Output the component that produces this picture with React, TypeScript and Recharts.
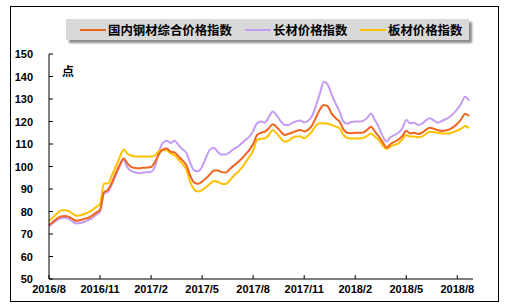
import { LineChart, Line, XAxis, YAxis } from 'recharts';

// weekly readings, 2016/8 .. 2018/9
const composite = [
  74, 75.3, 76.8, 77.8, 78, 77.7, 76.7, 75.9, 76.2, 76.7, 77.2, 78.2, 79.5, 80.7,
  88.5, 89.6, 92.8, 97, 100.8, 103.6, 101.3, 99.7, 99.3, 99.2, 99.4, 99.5, 99.8,
  102, 105.5, 107.5, 108, 106.6, 106.3, 104.5, 102.7, 100.5, 95.8, 92.8, 92.3, 93.3,
  94.8, 96.5, 98.2, 98.2, 97.5, 97.3, 98.8, 100.3, 101.8, 103.3, 105.3, 107.3, 110,
  114, 115, 115.5, 117, 118.8, 117.5, 115.6, 114, 114.5, 115.1, 115.8, 116.2, 115.6,
  116.3, 118.2, 121.8, 125.3, 127.3, 126.7, 123.5, 121.5, 120, 116.5, 115, 114.8,
  115, 115, 115.1, 116.2, 117.7, 115.5, 113.4, 110.8, 108.5, 110, 111, 112, 113.5,
  115.9, 114.7, 115, 114.5, 115, 116.3, 117.2, 116.8, 116.2, 115.8, 116, 116.5,
  117.5, 119, 121, 123.5, 122.4,
];
const longProducts = [
  73.5, 74.8, 76, 77, 77.2, 76.8, 75.6, 74.7, 74.9, 75.4, 76.2, 77, 78.6, 80,
  88, 88.8, 92, 96, 100, 102.9, 99.5, 98, 97.3, 97, 97.3, 97.5, 97.7,
  100, 106.5, 110.5, 111.5, 110.5, 111.5, 109.5, 107.7, 106, 101.5, 98.2, 97.9, 100,
  104, 107.5, 108.3, 106.5, 105.3, 105.3, 106.3, 107.7, 108.7, 110.2, 111.8, 113.2, 115.8,
  119.2, 120, 119.5, 122, 124.4, 122.7, 120.2, 118.5, 118.5, 119.4, 120.1, 120.5, 119.6,
  120.3, 122.5, 127, 132.5, 137.7, 136.4, 132, 128, 124.5, 120, 119, 119.8,
  120, 120, 120.3, 121.5, 123.6, 120.7, 117.5, 113.5, 111, 113, 114, 115, 117,
  120.7, 119.2, 119.5, 118.5, 119, 120.5, 121.4, 120.5, 119.5, 120.2, 121, 122,
  123.5, 125.5, 128, 131, 129.2,
];
const flatProducts = [
  75.8, 77.3, 79, 80.5, 80.6, 80.2, 79, 78.1, 78.3, 78.9, 79.6, 80.6, 82, 83.3,
  92.5, 92.5, 96, 100, 104, 107.6, 105.7, 104.8, 104.5, 104.4, 104.5, 104.5, 104.4,
  105, 106.8, 107.3, 107.2, 105.8, 105, 103.2, 101, 98.5, 93, 89.8, 88.9, 89.5,
  90.8, 92.3, 93.6, 93.2, 92.3, 92.2, 93.8, 95.8, 97.3, 99.3, 101.6, 104.2, 107,
  111.8, 112.3, 112.5, 114, 116.2, 114.7, 112.6, 111, 111.5, 112.7, 113.3, 113.3, 112.6,
  113.8, 115.6, 118.2, 119.2, 119.2, 119, 118.5, 117.7, 117, 114, 112.7, 112.5,
  112.5, 112.5, 112.7, 113.5, 114.7, 113.3, 111.8, 109.3, 107.8, 109, 109.6, 110.3, 112,
  114, 113.3, 113.3, 113, 113.3, 114.5, 115.5, 115.3, 115, 114.7, 114.7, 114.8,
  115.3, 116, 116.8, 118, 117,
];

const monthLabels = ['2016/8', '2016/11', '2017/2', '2017/5', '2017/8', '2017/11', '2018/2', '2018/5', '2018/8'];
const monthWeeks = [0, 13, 26, 39, 52, 65, 78, 91, 104];
const yTicks = [50, 60, 70, 80, 90, 100, 110, 120, 130, 140, 150];

const seriesNames = ['国内钢材综合价格指数', '长材价格指数', '板材价格指数'];
const seriesColors = ['#F0641E', '#C49CF2', '#FFC000'];

const data = composite.map((v, i) => ({
  week: i,
  composite: v,
  longProducts: longProducts[i],
  flatProducts: flatProducts[i],
}));

const tickFont = { fontFamily: 'Liberation Sans, Arial, sans-serif', fontSize: 11, fontWeight: 700, fill: '#000' };

function YTick(props: any) {
  const { x, y, payload } = props;
  return (
    <g>
      <line x1={x} y1={y} x2={x + 4} y2={y} stroke="#000" />
      <text x={x - 16} y={y} dy={4} textAnchor="end" style={tickFont}>
        {payload.value}
      </text>
    </g>
  );
}

function XTick(props: any) {
  const { x, y, payload } = props;
  const idx = monthWeeks.indexOf(payload.value);
  return (
    <g>
      <line x1={x} y1={y} x2={x} y2={y - 4} stroke="#000" />
      <text x={x} y={y} dy={14} textAnchor="middle" style={tickFont}>
        {monthLabels[idx] ?? ''}
      </text>
    </g>
  );
}

const legendX = [80, 245, 360];

export default function App() {
  return (
    <div style={{ position: 'absolute', left: 0, top: 0, width: 509, height: 305, background: '#fff' }}>
      <div
        style={{
          position: 'absolute',
          left: 10,
          top: 6,
          width: 489,
          height: 296,
          border: '1px solid #000',
          boxSizing: 'border-box',
        }}
      />
      <LineChart width={509} height={305} data={data} margin={{ top: 54, right: 36, bottom: 10, left: 0 }}>
        <XAxis
          dataKey="week"
          type="number"
          domain={[0, 108]}
          ticks={monthWeeks}
          interval={0}
          stroke="#000"
          tickLine={false}
          tickSize={0}
          tickMargin={0}
          height={16}
          tick={<XTick />}
        />
        <YAxis
          domain={[50, 150]}
          ticks={yTicks}
          interval={0}
          width={49}
          stroke="#000"
          tickLine={false}
          tickSize={0}
          tickMargin={0}
          tick={<YTick />}
        />
        <Line type="monotone" dataKey="longProducts" stroke={seriesColors[1]} strokeWidth={2} dot={false} isAnimationActive={false} />
        <Line type="monotone" dataKey="flatProducts" stroke={seriesColors[2]} strokeWidth={2} dot={false} isAnimationActive={false} />
        <Line type="monotone" dataKey="composite" stroke={seriesColors[0]} strokeWidth={2} dot={false} isAnimationActive={false} />
      </LineChart>
      <div
        style={{
          position: 'absolute',
          left: 62,
          top: 62,
          fontFamily: 'Noto Sans CJK SC, sans-serif',
          fontWeight: 700,
          fontSize: 12,
        }}
      >
        点
      </div>
      <div
        style={{
          position: 'absolute',
          left: 66,
          top: 19,
          width: 403,
          height: 21,
          background: '#D9D9D9',
          boxShadow: '3px 3px 2px #8c8c8c',
        }}
      />
      {seriesNames.map((name, i) => (
        <div
          key={name}
          style={{
            position: 'absolute',
            left: legendX[i],
            top: 22,
            height: 16,
            display: 'flex',
            alignItems: 'center',
            fontFamily: 'Noto Sans CJK SC, sans-serif',
            fontWeight: 700,
            fontSize: 12.4,
            whiteSpace: 'nowrap',
          }}
        >
          <span style={{ display: 'inline-block', width: 26, height: 2, background: seriesColors[i], marginRight: 2 }} />
          <span>{name}</span>
        </div>
      ))}
    </div>
  );
}
